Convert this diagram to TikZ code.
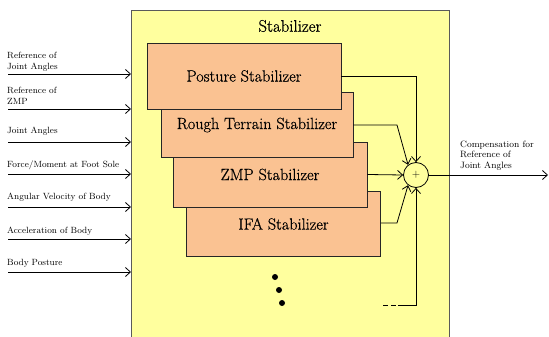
\documentclass[tikz,border=0pt]{standalone}
\usepackage{fontspec}
\newfontfamily\heavyserif{Latin Modern Roman}[FakeBold=0.6]
\usetikzlibrary{arrows.meta}
\definecolor{panel}{HTML}{FFFF9E}
\definecolor{unitfill}{HTML}{FAC292}
\definecolor{panelline}{HTML}{5A5A5A}
\tikzset{
  stabbox/.style={draw=black!85, line width=0.9pt, fill=unitfill,
    minimum width=194pt, minimum height=65pt, inner sep=0pt,
    font=\heavyserif\fontsize{16.2}{19}\selectfont},
  inlabel/.style={anchor=west, align=left, inner sep=0pt,
    font=\fontsize{9}{11}\selectfont},
  sig/.style={line width=0.8pt, -{Straight Barb[length=5pt,width=9pt]}},
  wire/.style={line width=0.8pt},
  sumnode/.style={draw, circle, line width=0.8pt, minimum size=25pt,
    inner sep=0pt, fill=panel, font=\fontsize{11}{11}\selectfont},
  dotmark/.style={fill=black, circle, inner sep=0pt, minimum size=6pt}
}
\begin{document}
\begin{tikzpicture}[x=1pt, y=-1pt]
\useasboundingbox (0,0) rectangle (549,337);
\clip (0,0) rectangle (549,337);

% outer stabilizer panel
\draw[panelline, line width=1pt, fill=panel] (131,10.5) rectangle (449,345);
\node[font=\heavyserif\fontsize{16.8}{19}\selectfont] (title) at (290,26) {Stabilizer};

% stacked stabilizer units (back to front)
\node[stabbox] (ifa)   at (283.5,224)  {IFA Stabilizer};
\node[stabbox] (zmp)   at (270,174.5)  {ZMP Stabilizer};
\node[stabbox, minimum width=192pt] (rough) at (257,125) {Rough Terrain Stabilizer};
\node[stabbox, minimum height=66pt] (post)  at (244,76)  {Posture Stabilizer};

% summing junction
\node[sumnode] (sum) at (416,175) {+};

% unit outputs into the junction
\coordinate (pbend) at (416,76);
\coordinate (rbend) at (397,125);
\coordinate (ibend) at (397,223);
\draw[sig] (post.east) -- (pbend) -- (sum.north);
\draw[sig] (rough.east) -- (rbend) -- (sum.128);
\draw[sig] (zmp.east) -- (sum.west);
\draw[sig] (ifa.east |- ibend) -- (ibend) -- (sum.232);

% further units
\node[dotmark] (d1) at (275,277) {};
\node[dotmark] (d2) at (279,290) {};
\node[dotmark] (d3) at (282,303) {};
\coordinate (more0) at (383,305);
\coordinate (more1) at (398,305);
\coordinate (more2) at (416,305);
\draw[wire, dash pattern=on 5pt off 3pt] (more0) -- (more1);
\draw[sig] (more1) -- (more2) -- (sum.south);

% output
\coordinate (out) at (548,175);
\draw[sig] (sum.east) -- (out);
\node[inlabel, font=\fontsize{9.2}{10.5}\selectfont] (outlabel) at (460,155.5)
  {Compensation for\\Reference of\\Joint Angles};

% inputs
\node[inlabel] (l1) at (7,61.5) {Reference of\\Joint Angles};
\node[inlabel] (l2) at (7,95.5) {Reference of\\ZMP};
\node[inlabel] (l3) at (7,131) {Joint Angles};
\node[inlabel] (l4) at (7,165) {Force/Moment at Foot Sole};
\node[inlabel] (l5) at (7,197) {Angular Velocity of Body};
\node[inlabel] (l6) at (7,231) {Acceleration of Body};
\node[inlabel] (l7) at (7,263) {Body Posture};

\foreach \i/\y in {1/74, 2/109, 3/142, 4/174, 5/207, 6/239, 7/272} {
  \coordinate (src\i) at (8,\y);
  \coordinate (dst\i) at (131,\y);
  \draw[sig] (src\i) -- (dst\i);
}
\end{tikzpicture}
\end{document}
